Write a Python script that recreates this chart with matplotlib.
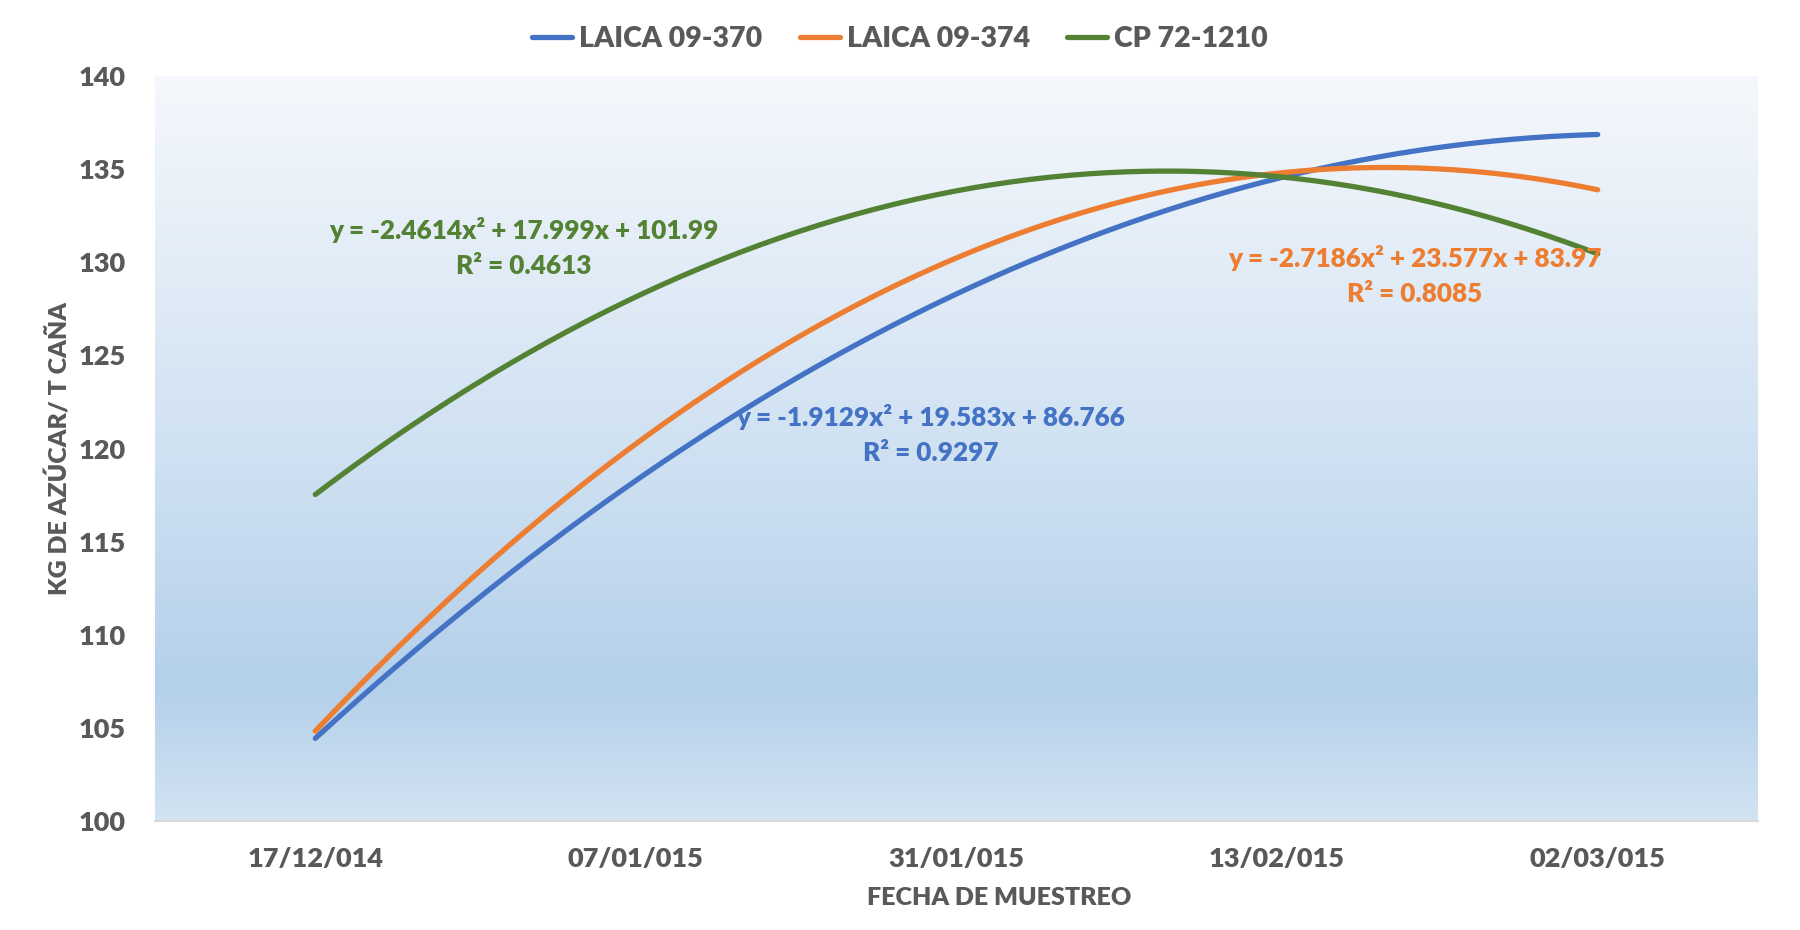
import numpy as np
import matplotlib
matplotlib.use("Agg")
import matplotlib.pyplot as plt
from matplotlib.colors import LinearSegmentedColormap

# fechas de muestreo (eje de categorias)
fechas = ["17/12/014", "07/01/015", "31/01/015", "13/02/015", "02/03/015"]
series = ["LAICA 09-370", "LAICA 09-374", "CP 72-1210"]
colores = ["#4472C4", "#ED7D31", "#548235"]

# coeficientes de las lineas de tendencia polinomicas (a, b, c) como aparecen en el grafico
coef_370 = [-1.9129, 19.583, 86.766]
coef_374 = [-2.7186, 23.577, 83.97]
coef_cp = [-2.4614, 17.999, 101.99]
r2 = [0.9297, 0.8085, 0.4613]
coefs = [coef_370, coef_374, coef_cp]

plt.rcParams['font.family'] = ['Lato', 'DejaVu Sans']
peso = 'heavy'
gris = "#595959"

fig = plt.figure(figsize=(18, 9.3), dpi=100)
ax = fig.add_axes([155/1800, 1-821/930, (1758-155)/1800, (821-76)/930])

# fondo degradado
cmap = LinearSegmentedColormap.from_list("fondo", [(0, "#F5F8FC"), (0.55, "#CCDFF1"), (0.82, "#B4D0EA"), (1, "#D2E3F2")])
grad = np.linspace(0, 1, 256).reshape(-1, 1)
ax.imshow(grad, cmap=cmap, aspect='auto', extent=[0, 1, 0, 1], transform=ax.transAxes, zorder=0)

xs = np.linspace(1, len(fechas), 200)
for nombre, c, col in zip(series, coefs, colores):
    ax.plot(xs, np.polyval(c, xs), color=col, lw=3.8, solid_capstyle='round', label=nombre, zorder=3)

def ecuacion(c):
    return "y = %gx² + %gx + %g" % (c[0], c[1], c[2])

pos_texto = [(931, 417), (1415, 258), (524, 230)]
for c, rr, col, (px, py) in zip(coefs, r2, colores, pos_texto):
    fig.text(px/1800, 1-py/930, ecuacion(c), color=col, fontsize=18.8,
             fontweight=peso, ha='center', va='center', zorder=5)
    fig.text(px/1800, 1-(py+36)/930, "R² = %.4f" % rr, color=col, fontsize=18.8,
             fontweight=peso, ha='center', va='center', zorder=5)

ax.set_xlim(0.5, len(fechas) + 0.5)
ax.set_ylim(100, 140)
ax.set_xticks(range(1, len(fechas) + 1))
ax.set_xticklabels(fechas)
ax.set_yticks(np.arange(100, 141, 5))
ax.tick_params(length=0, labelsize=19.5, labelcolor=gris)
ax.tick_params(axis='x', pad=19)
ax.tick_params(axis='y', pad=21)
for t in ax.get_xticklabels() + ax.get_yticklabels():
    t.set_fontweight(peso)
for s in ['top', 'right', 'left']:
    ax.spines[s].set_visible(False)
ax.spines['bottom'].set_color("#D9D9D9")
ax.spines['bottom'].set_linewidth(1.5)

ax.set_xlabel("FECHA DE MUESTREO", fontsize=18, color=gris, fontweight=peso, labelpad=11, x=0.5265)
ax.set_ylabel("KG DE AZÚCAR/ T CAÑA", fontsize=18, color=gris, fontweight=peso, labelpad=5)

leg = fig.legend(loc='center', bbox_to_anchor=(0.5, 1-39/930), ncol=3, frameon=False,
                 fontsize=20.5, handlelength=1.4, handletextpad=0.25, columnspacing=1.3)
for t in leg.get_texts():
    t.set_color(gris)
    t.set_fontweight(peso)

fig.savefig("out.png", dpi=100, facecolor="white")
